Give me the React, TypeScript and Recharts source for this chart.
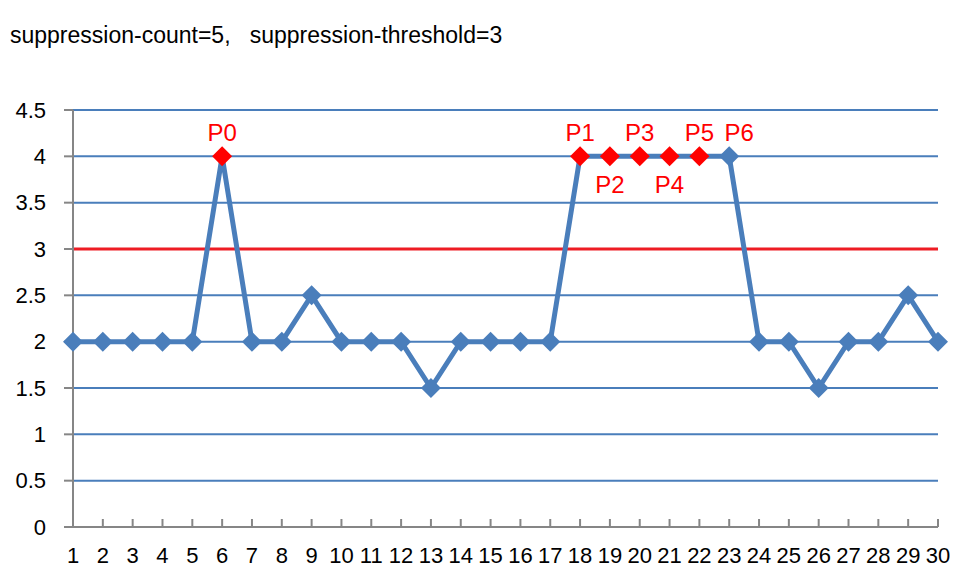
import React from 'react';
import { LineChart, Line, XAxis, YAxis, CartesianGrid, ReferenceLine } from 'recharts';

const categories = Array.from({ length: 30 }, (_, i) => String(i + 1));
const values = [2, 2, 2, 2, 2, 4, 2, 2, 2.5, 2, 2, 2, 1.5, 2, 2, 2, 2, 4, 4, 4, 4, 4, 4, 2, 2, 1.5, 2, 2, 2.5, 2];
const highlighted = ['6', '18', '19', '20', '21', '22'];
const pointLabels = ['P0', 'P1', 'P2', 'P3', 'P4', 'P5', 'P6'];
const labelCategories = ['6', '18', '19', '20', '21', '22', '23'];
const labelBelow = ['P2', 'P4'];
const yTicks = [0, 0.5, 1, 1.5, 2, 2.5, 3, 3.5, 4, 4.5];
const threshold = 3;

const data = categories.map((c, i) => ({ name: c, value: values[i] }));

const BLUE = '#4a7ebb';
const RED = '#ff0000';
const FONT = "'Liberation Sans', Arial, sans-serif";

const Diamond = (props: any) => {
  const { cx, cy, payload } = props;
  if (cx == null || cy == null) return null;
  const r = 10;
  const fill = highlighted.includes(payload.name) ? RED : BLUE;
  return (
    <polygon
      points={`${cx},${cy - r} ${cx + r},${cy} ${cx},${cy + r} ${cx - r},${cy}`}
      fill={fill}
    />
  );
};

const PointLabel = (props: any) => {
  const { x, y, index } = props;
  const idx = labelCategories.indexOf(categories[index]);
  if (idx < 0) return null;
  const text = pointLabels[idx];
  const below = labelBelow.includes(text);
  // P6 sits a little to the right so it doesn't run into P5
  const dx = text === 'P6' ? 10 : 0;
  return (
    <text
      x={x + dx}
      y={below ? y + 37 : y - 15}
      textAnchor="middle"
      fill={RED}
      fontSize={24}
      fontFamily={FONT}
    >
      {text}
    </text>
  );
};

export default function App() {
  return (
    <div style={{ position: 'absolute', left: 0, top: 0, width: 974, height: 579, background: '#fff' }}>
      <div
        style={{
          position: 'absolute',
          left: 10,
          top: 22,
          fontFamily: FONT,
          fontSize: 23,
          lineHeight: '26px',
          whiteSpace: 'pre',
          color: '#000',
        }}
      >
        {'suppression-count=5,   suppression-threshold=3'}
      </div>
      <LineChart
        width={974}
        height={579}
        data={data}
        margin={{ top: 110, right: 36, left: 0, bottom: 22 }}
      >
        <CartesianGrid vertical={false} stroke={BLUE} strokeWidth={2} />
        <XAxis
          dataKey="name"
          height={30}
          axisLine={{ stroke: '#868686', strokeWidth: 2 }}
          tickLine={{ stroke: '#868686', strokeWidth: 2 }}
          tickSize={-8}
          tickMargin={28}
          interval={0}
          tick={{ fill: '#000', fontSize: 22, fontFamily: FONT }}
        />
        <YAxis
          width={73}
          domain={[0, 4.5]}
          ticks={yTicks}
          interval={0}
          axisLine={{ stroke: '#868686', strokeWidth: 2 }}
          tickLine={{ stroke: '#868686', strokeWidth: 2 }}
          tickSize={9}
          tickMargin={18}
          tick={{ fill: '#000', fontSize: 22, fontFamily: FONT }}
        />
        <ReferenceLine y={threshold} stroke="#ee1c24" strokeWidth={3} />
        <Line
          type="linear"
          dataKey="value"
          stroke={BLUE}
          strokeWidth={5}
          dot={<Diamond />}
          activeDot={false}
          label={<PointLabel />}
          isAnimationActive={false}
        />
      </LineChart>
    </div>
  );
}
